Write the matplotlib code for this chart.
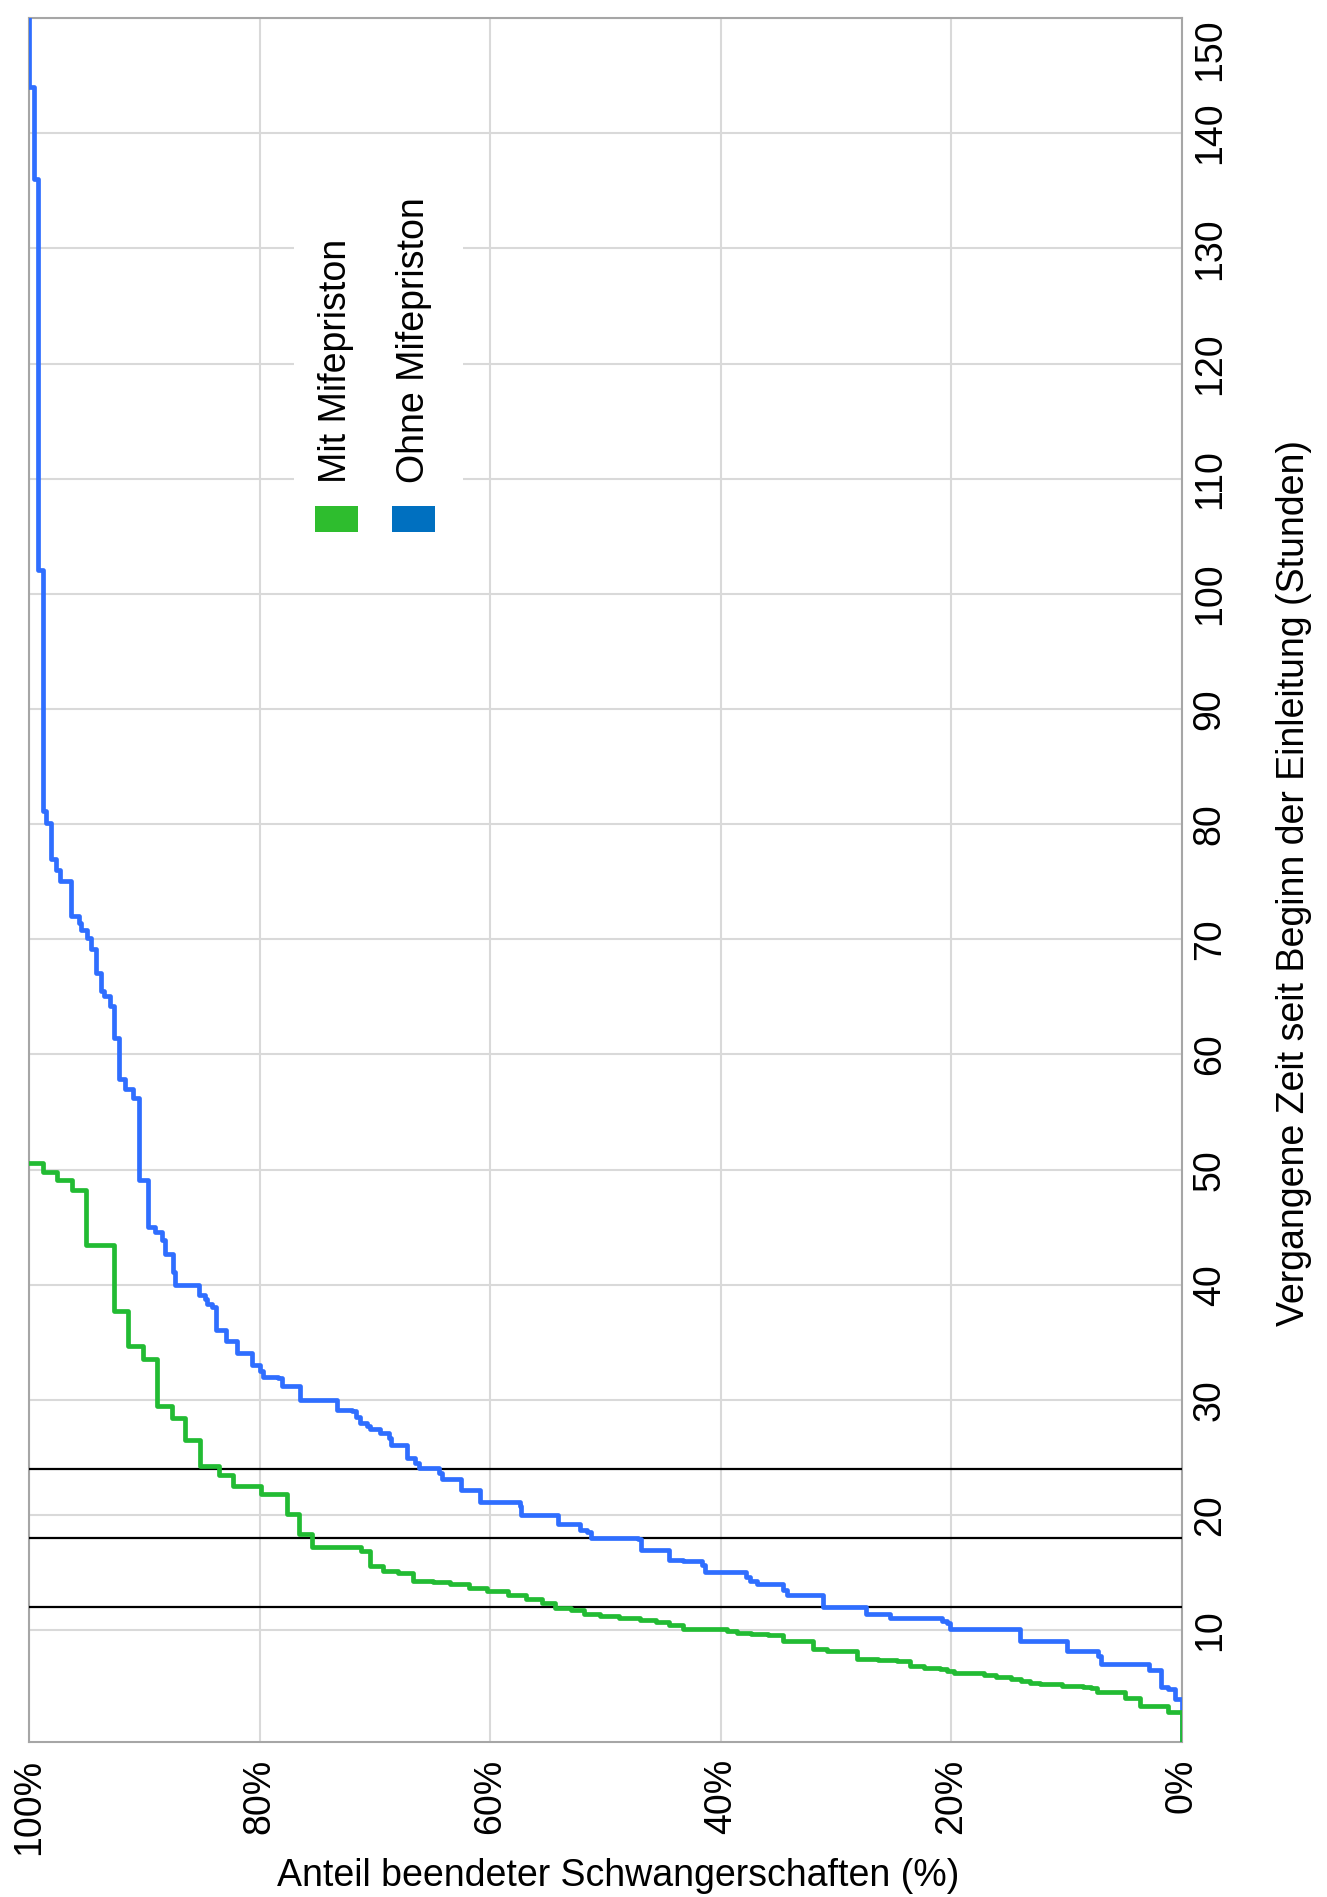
import numpy as np
import matplotlib.pyplot as plt
from matplotlib.patches import Rectangle

plt.rcParams['font.family'] = ['Liberation Sans', 'DejaVu Sans']

# cumulative share of finished pregnancies (%) reached at each hour
green_hours = [0.3, 2.9, 3.45, 4.15, 4.6, 4.95, 5.1, 5.2, 5.3, 5.45, 5.6, 5.75, 5.95,
               6.1, 6.3, 6.45, 6.6, 6.75, 6.9, 7.35, 7.45, 7.5, 8.2, 8.35, 9.05, 9.6,
               9.7, 9.75, 9.95, 10.1, 10.5, 10.7, 10.9, 11.05, 11.25, 11.4, 11.8, 11.95,
               12.4, 12.7, 13.1, 13.4, 13.7, 14.0, 14.2, 14.3, 15.0, 15.15, 15.55, 16.9,
               17.2, 18.4, 20.1, 21.8, 22.5, 23.5, 24.3, 26.5, 28.4, 29.5, 33.6, 34.7,
               37.7, 43.5, 48.2, 49.1, 49.8, 50.6]
green_pct = [0, 1.2, 3.6, 4.9, 7.4, 7.9, 8.6, 10.4, 12.3, 13.2, 14.0, 14.8, 16.1,
             17.2, 19.8, 20.4, 21.0, 22.4, 23.6, 24.7, 26.4, 28.2, 30.8, 32.0, 34.6, 35.9,
             37.4, 38.6, 39.5, 43.3, 44.5, 45.6, 47.0, 48.8, 50.5, 51.9, 53.0, 54.4,
             55.5, 56.9, 58.5, 60.3, 61.8, 63.5, 65.0, 66.7, 68.0, 69.3, 70.4, 71.2,
             75.5, 76.6, 77.6, 79.9, 82.3, 83.5, 85.2, 86.5, 87.6, 88.9, 90.1, 91.4,
             92.6, 95.1, 96.3, 97.6, 98.8, 100]

blue_hours = [0.3, 4.0, 4.9, 5.1, 6.55, 7.05, 7.75, 8.2, 9.07, 10.1, 10.65, 10.8, 11.1,
              11.45, 12.0, 13.1, 13.5, 14.0, 14.3, 14.6, 15.1, 15.7, 16.0, 16.1, 17.0,
              17.9, 18.05, 18.5, 18.75, 19.2, 20.05, 20.8, 21.1, 22.2, 23.1, 23.7, 24.1,
              24.5, 25.0, 26.05, 26.7, 27.1, 27.5, 27.7, 28.0, 28.5, 29.0, 29.15, 30.0,
              31.2, 31.9, 32.0, 32.5, 33.05, 34.1, 35.1, 36.1, 38.1, 38.3, 38.8, 39.1,
              40.0, 41.1, 42.7, 43.9, 44.6, 45.0, 49.1, 56.2, 57.0, 57.9, 61.4, 64.2,
              65.1, 65.5, 67.1, 69.2, 70.1, 70.8, 71.4, 72.0, 75.1, 76.0, 77.0, 80.1,
              81.1, 102.1, 136.0, 144.0, 150]
blue_pct = [0, 0.6, 1.2, 1.8, 2.9, 7.0, 7.3, 10.0, 14.05, 20.1, 20.4, 20.8, 25.3,
            27.4, 31.1, 34.3, 34.6, 36.9, 37.5, 37.8, 41.4, 41.6, 43.3, 44.5, 46.9,
            47.2, 51.3, 51.6, 52.2, 54.1, 57.3, 57.4, 60.9, 62.5, 64.2, 64.4, 66.2,
            66.5, 67.2, 68.6, 68.8, 69.6, 70.4, 70.7, 71.3, 71.6, 72.0, 73.3, 76.5,
            78.1, 78.4, 79.7, 80.0, 80.7, 82.0, 82.9, 83.8, 84.1, 84.6, 84.7, 85.3,
            87.3, 87.5, 88.2, 88.5, 89.1, 89.7, 90.5, 90.95, 91.7, 92.2, 92.6, 93.0,
            93.5, 93.8, 94.2, 94.6, 95.0, 95.5, 95.7, 96.4, 97.3, 97.7, 98.1, 98.5,
            98.8, 99.2, 99.6, 100, 100]

ref_hours = [12, 18, 24]
pct_ticks = [0, 20, 40, 60, 80, 100]
hour_ticks = list(range(10, 151, 10))

labels = ['Mit Mifepriston', 'Ohne Mifepriston']
line_colors = ['#22BB33', '#2F6EFF']
patch_colors = ['#2EBD2E', '#0070C0']
fs = 27

fig = plt.figure(figsize=(13.27, 18.97), dpi=100)
ax = fig.add_axes([0.0219, 0.0817, 0.8688, 0.9088])

ax.plot(blue_pct, blue_hours, drawstyle='steps-pre', color=line_colors[1], lw=3.4, zorder=4)
ax.plot(green_pct, green_hours, drawstyle='steps-pre', color=line_colors[0], lw=3.4, zorder=5)

for h in ref_hours:
    ax.axhline(h, color='black', lw=1.6, zorder=3)

ax.set_xlim(100, 0)
ax.set_ylim(0.3, 150)
ax.yaxis.tick_right()
ax.yaxis.set_label_position('right')

ax.set_xticks(pct_ticks)
ax.set_xticklabels([f'{v}%' for v in pct_ticks])
ax.set_yticks(hour_ticks)
ax.set_yticklabels([str(v) for v in hour_ticks])
ax.tick_params(axis='x', length=0, pad=12, labelsize=fs, labelrotation=90)
ax.tick_params(axis='y', length=0, pad=7, labelsize=fs, labelrotation=90)
for t in ax.get_yticklabels():
    t.set_va('center')
ax.get_yticklabels()[-1].set_va('top')

ax.grid(True, color='#D9D9D9', lw=1.5)
ax.set_axisbelow(True)
for s in ax.spines.values():
    s.set_color('#A6A6A6')
    s.set_linewidth(1.5)

ax.set_xlabel('Anteil beendeter Schwangerschaften (%)', fontsize=fs)
ax.xaxis.set_label_coords(0.511, -0.0777)
ax.xaxis.label.set_va('center')
ax.set_ylabel('Vergangene Zeit seit Beginn der Einleitung (Stunden)', fontsize=fs,
              rotation=90)
ax.yaxis.set_label_coords(1.097, 0.498)
ax.yaxis.label.set_va('center')
ax.yaxis.label.set_ha('center')

# legend, drawn by hand because the whole chart is turned on its side
ax.add_patch(Rectangle((0.230, 0.694), 0.146, 0.206, transform=ax.transAxes,
                       facecolor='white', edgecolor='none', zorder=2))
for i, (lab, col) in enumerate(zip(labels, patch_colors)):
    x0 = 0.2476 + i * 0.0672
    ax.add_patch(Rectangle((x0, 0.7019), 0.0377, 0.0153, transform=ax.transAxes,
                           facecolor=col, edgecolor='none', zorder=6))
    ax.text(x0 + 0.0188, 0.7303, lab, transform=ax.transAxes, rotation=90,
            ha='center', va='bottom', fontsize=fs, zorder=6)

plt.savefig('out.png', dpi=100)
